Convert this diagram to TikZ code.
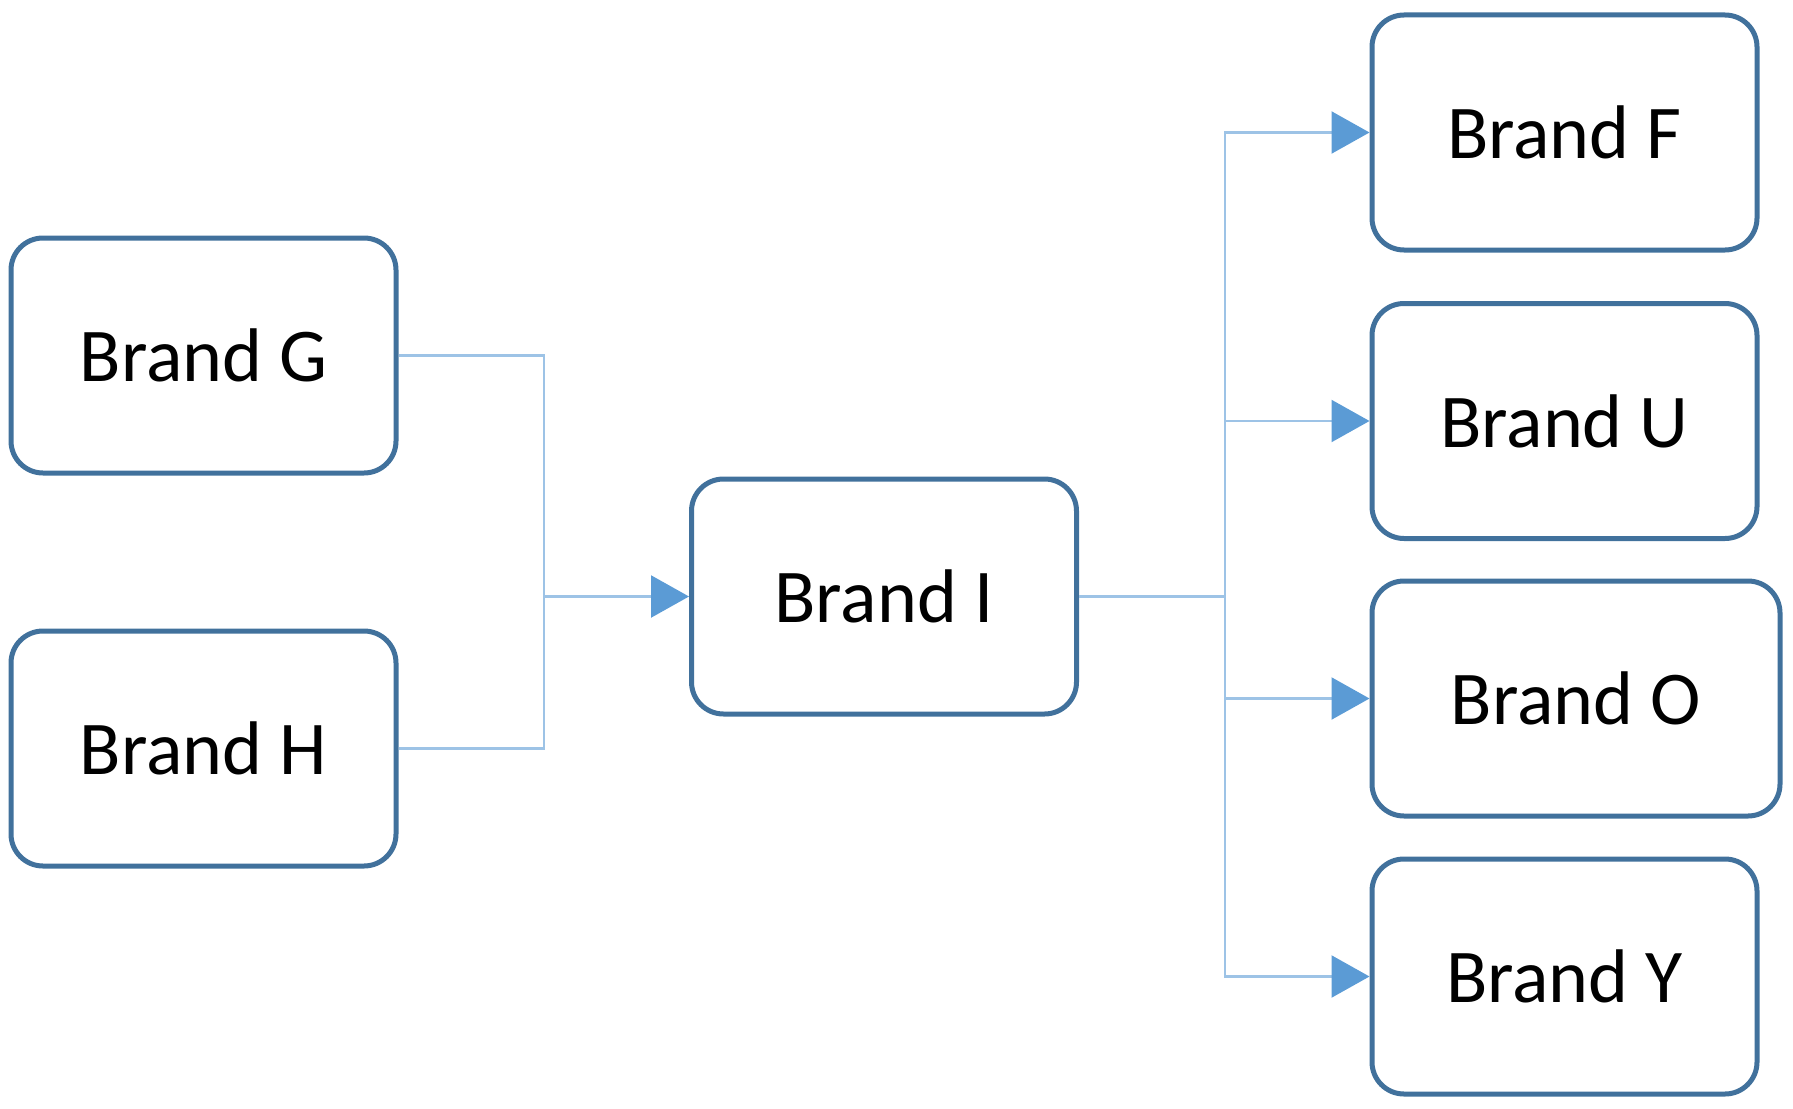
\documentclass[tikz,border=0pt]{standalone}
\usepackage{fontspec}
\setmainfont{Carlito}
\usetikzlibrary{arrows.meta}
\definecolor{bord}{HTML}{41719C}
\definecolor{lnk}{HTML}{9DC3E6}
\definecolor{arr}{HTML}{5B9BD5}
\begin{document}
\begin{tikzpicture}[x=1pt,y=-1pt,
  box/.style={draw=bord,line width=5pt,rounded corners=32pt,fill=white,minimum width=385pt,minimum height=235pt,inner sep=0pt,font=\fontsize{76}{90}\selectfont},
  ln/.style={draw=lnk,line width=2.2pt},
  ar/.style={ln,-{Triangle[length=38pt,width=42pt,fill=arr,color=arr]}}]
\useasboundingbox (0,0) rectangle (1793,1108);
\node[box] (G) at (203.5,355.5) {Brand G};
\node[box] (H) at (203.5,748.5) {Brand H};
\node[box] (I) at (884,596.5) {Brand I};
\node[box] (F) at (1564.5,132.5) {Brand F};
\node[box] (U) at (1564.5,421) {Brand U};
\node[box,minimum width=408pt] (O) at (1576,698.5) {Brand O};
\node[box] (Y) at (1564.5,976.5) {Brand Y};
\coordinate (jl) at (544,596.5);
\coordinate (jr) at (1225,596.5);
\draw[ln] (G.east) -| (jl);
\draw[ln] (H.east) -| (jl);
\draw[ar] (jl) -- (I.west);
\draw[ln] (I.east) -- (jr);
\draw[ar] (jr) |- (F.west);
\draw[ar] (jr) |- (U.west);
\draw[ar] (jr) |- (O.west);
\draw[ar] (jr) |- (Y.west);
\end{tikzpicture}
\end{document}
